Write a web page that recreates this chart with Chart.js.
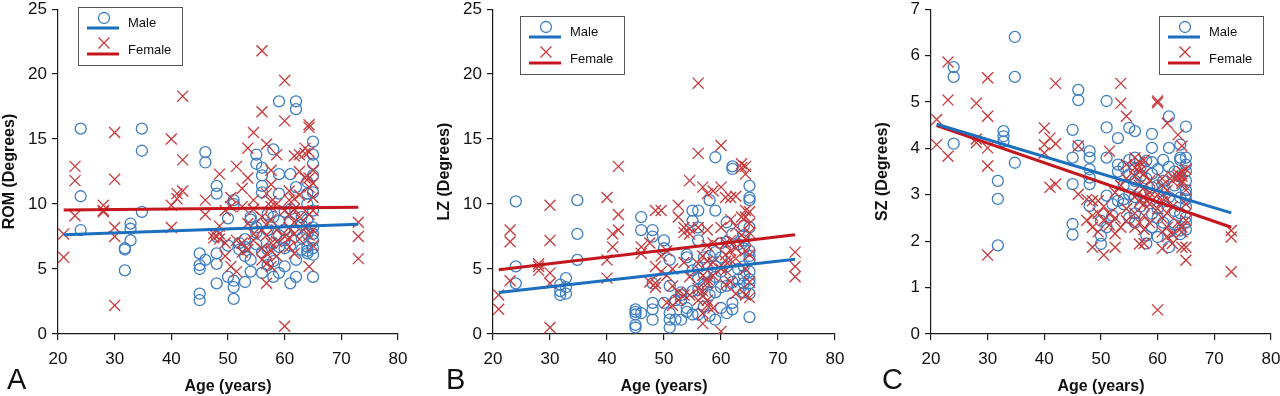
<!DOCTYPE html>
<html>
<head>
<meta charset="utf-8">
<script src="https://cdn.jsdelivr.net/npm/chart.js@4.4.1/dist/chart.umd.min.js"></script>
<style>
    html, body { margin: 0; padding: 0; background: #fff; }
    #wrap { position: relative; width: 1280px; height: 396px; overflow: hidden; }
    #wrap canvas { position: absolute; top: 0; }
    .letter { position: absolute; top: 365px; font-family: "Liberation Sans", Arial, sans-serif; font-size: 29px; color: #111; line-height: 1; }
</style>
</head>
<body>
<div id="wrap">
    <canvas id="chartA" width="420" height="396" style="left:0px"></canvas>
    <canvas id="chartB" width="430" height="396" style="left:420px"></canvas>
    <canvas id="chartC" width="430" height="396" style="left:850px"></canvas>
    <div class="letter" style="left:7px">A</div>
    <div class="letter" style="left:446px">B</div>
    <div class="letter" style="left:882px">C</div>
</div>
<script>
// ages shared by the three panels (same subjects)
const maleAge = [
    24, 24, 24,
    31.8, 31.8, 31.8,
    32.8, 32.8, 32.8,
    34.8, 34.8, 34.8,
    45, 45, 45, 45, 45,
    46, 46, 46,
    48, 48, 48, 48, 48, 48,
    50, 50, 50,
    51, 51, 51, 51, 51,
    52, 52,
    53, 53, 53, 53,
    54, 54, 54, 54,
    55, 55, 55, 55, 55,
    56, 56, 56, 56, 56, 56, 56,
    57, 57, 57, 57,
    58, 58, 58, 58, 58,
    59, 59, 59, 59, 59, 59, 59,
    60, 60, 60, 60, 60,
    61, 61, 61, 61, 61,
    62, 62, 62, 62, 62, 62,
    63, 63, 63, 63,
    64, 64, 64, 64, 64, 64, 64, 64,
    65, 65, 65, 65, 65, 65, 65, 65, 65, 65, 65, 65
];
const maleRom = [
    15.8, 10.6, 8.0,
    6.6, 6.5, 4.9,
    8.5, 8.1, 7.2,
    15.8, 14.1, 9.4,
    6.2, 5.3, 5.0, 3.1, 2.6,
    14.0, 13.2, 5.7,
    11.4, 10.8, 6.2, 5.4, 3.9, 7.5,
    8.9, 4.4, 6.8,
    10.3, 4.1, 3.6, 2.7, 10.0,
    7.0, 6.5,
    6.7, 4.0, 7.3, 6.0,
    9.0, 5.7, 4.8, 8.8,
    13.8, 13.1, 8.2, 7.8, 6.9,
    12.8, 12.2, 11.4, 10.9, 4.7, 8.5, 6.3,
    8.0, 6.5, 5.3, 9.2,
    14.2, 4.4, 7.0, 9.0, 5.6,
    17.9, 12.3, 10.8, 8.7, 6.7, 4.7, 7.6,
    6.6, 5.2, 9.4, 7.2, 8.0,
    12.3, 3.9, 8.6, 6.8, 9.6,
    17.9, 17.3, 11.3, 5.7, 4.4, 8.0,
    8.4, 7.4, 9.0, 6.5,
    10.8, 10.0, 6.7, 6.4, 11.7, 8.8, 7.7, 6.2,
    14.8, 13.8, 13.1, 12.2, 10.9, 8.2, 7.2, 6.1, 4.4, 9.5, 7.7, 6.6
];
const maleLz = [
    10.2, 5.2, 3.9,
    3.8, 3.0, 3.3,
    4.3, 3.1, 3.6,
    10.3, 7.7, 5.7,
    1.7, 1.5, 0.7, 0.5, 1.9,
    9.0, 8.0, 1.6,
    8.0, 7.5, 3.9, 2.4, 1.9, 1.1,
    7.2, 2.4, 6.6,
    5.7, 1.6, 1.1, 0.5, 3.7,
    2.6, 1.1,
    2.6, 3.2, 1.1, 3.0,
    5.9, 1.7, 6.1, 2.0,
    9.5, 8.7, 4.9, 1.5, 3.3,
    9.5, 8.2, 7.2, 5.1, 3.4, 1.5, 4.3,
    5.9, 2.1, 3.8, 4.6,
    10.3, 6.0, 3.0, 1.4, 4.0,
    13.6, 9.5, 5.2, 1.1, 6.3, 3.2, 4.4,
    7.0, 2.0, 4.8, 3.6, 5.9,
    8.6, 1.6, 5.2, 3.7, 7.1,
    12.9, 12.7, 7.7, 2.4, 4.0, 1.9,
    6.9, 5.0, 4.2, 3.5,
    7.2, 5.2, 7.6, 4.5, 3.9, 6.6, 3.2, 8.3,
    11.4, 10.5, 10.3, 8.2, 6.4, 3.9, 3.1, 1.3, 5.7, 4.8, 4.2, 6.0
];
const maleSz = [
    5.75, 5.54, 4.10,
    3.30, 2.91, 1.91,
    4.37, 4.26, 4.15,
    6.40, 5.54, 3.69,
    4.40, 3.80, 3.23, 2.37, 2.14,
    5.26, 5.04, 4.06,
    3.94, 3.80, 3.55, 3.37, 3.23, 2.76,
    2.44, 2.12, 1.94,
    5.02, 4.45, 3.80, 2.98, 2.30,
    2.80, 2.55,
    4.22, 3.65, 2.87, 3.50,
    3.60, 3.20, 2.90, 2.80,
    4.44, 3.44, 3.01, 2.50, 3.75,
    4.37, 3.80, 3.30, 2.95, 2.60, 3.55, 2.40,
    3.60, 3.05, 2.75, 3.40,
    3.73, 2.12, 2.87, 3.35, 1.95,
    4.31, 4.01, 3.16, 2.59, 3.70, 2.30, 3.45,
    2.09, 3.55, 2.70, 3.20, 2.50,
    3.30, 3.75, 2.85, 2.40, 3.10,
    4.69, 4.01, 1.87, 3.60, 2.20, 2.95,
    3.50, 2.65, 3.20, 2.35,
    4.08, 3.80, 2.94, 2.23, 3.40, 2.60, 2.15, 3.75,
    4.47, 3.80, 3.51, 3.01, 2.51, 3.30, 2.75, 2.40, 3.65, 2.25, 3.10, 2.90
];

const femaleAge = [
    21, 21,
    23, 23, 23,
    28, 28, 28,
    30, 30, 30, 30, 30,
    40, 40, 40,
    41, 41,
    42, 42, 42,
    46, 46,
    47.5, 47.5,
    48.5, 48.5, 48.5, 48.5,
    49.5, 49.5, 49.5,
    50.5, 50.5, 50.5,
    51.5, 51.5, 51.5,
    52.5, 52.5, 52.5, 52.5,
    53.5, 53.5, 53.5, 53.5,
    54.5, 54.5, 54.5, 54.5, 54.5,
    56, 56, 56, 56, 56, 56,
    56.8, 56.8, 56.8, 56.8, 56.8, 56.8, 56.8,
    57.6, 57.6, 57.6, 57.6, 57.6, 57.6, 57.6, 57.6,
    58.6, 58.6, 58.6, 58.6, 58.6,
    60, 60, 60, 60, 60,
    60.8, 60.8, 60.8, 60.8, 60.8, 60.8,
    61.7, 61.7, 61.7, 61.7, 61.7, 61.7,
    62.6, 62.6, 62.6, 62.6, 62.6,
    63.6, 63.6, 63.6, 63.6,
    64.3, 64.3, 64.3, 64.3, 64.3, 64.3, 64.3, 64.3,
    65, 65, 65, 65, 65, 65,
    73, 73, 73
];
const femaleRom = [
    7.7, 5.9,
    12.9, 11.8, 9.1,
    9.9, 9.5, 9.4,
    15.5, 11.9, 8.2, 7.5, 2.2,
    15.0, 9.9, 8.2,
    10.8, 10.4,
    18.3, 13.4, 11.0,
    10.3, 9.2,
    7.7, 7.4,
    7.7, 12.3, 7.3, 8.3,
    9.5, 7.0, 6.0,
    10.5, 5.2, 9.8,
    12.9, 7.2, 4.8,
    11.2, 7.0, 9.8, 6.3,
    14.3, 12.0, 8.5, 6.5,
    15.5, 10.3, 7.7, 9.6, 7.2,
    21.8, 17.1, 5.7, 9.0, 8.0, 6.6,
    14.6, 3.9, 5.4, 6.2, 8.4, 10.8, 7.6,
    12.6, 9.8, 7.0, 5.2, 8.8, 6.4, 10.2, 11.5,
    13.8, 10.0, 8.0, 6.0, 7.1,
    19.5, 16.4, 0.6, 9.5, 7.5,
    10.3, 8.2, 6.7, 9.2, 11.0, 7.4,
    13.7, 7.7, 9.6, 8.6, 6.2, 10.4,
    12.5, 9.0, 7.3, 10.7, 13.8,
    14.3, 13.9, 8.2, 12.0,
    15.9, 16.1, 14.0, 5.2, 11.3, 12.0, 9.2, 7.6,
    11.6, 9.5, 8.0, 6.8, 10.5, 12.6,
    8.6, 7.5, 5.8
];
const femaleLz = [
    3.0, 1.9,
    8.0, 7.1, 4.1,
    5.4, 5.2, 4.9,
    9.9, 7.2, 4.7, 3.9, 0.5,
    10.5, 5.7, 4.3,
    7.7, 6.7,
    12.9, 9.2, 8.0,
    6.7, 6.2,
    7.0, 4.0,
    5.2, 3.9, 3.6, 9.5,
    9.5, 6.0, 4.8,
    6.4, 2.4, 4.5,
    3.7, 2.2, 5.0,
    9.9, 9.0, 3.2, 2.6,
    8.2, 7.8, 5.5, 3.0,
    11.8, 7.7, 8.1, 4.4, 3.0,
    19.3, 13.9, 8.2, 5.4, 3.5, 2.6,
    11.3, 2.9, 1.6, 0.8, 6.0, 4.5, 3.3,
    10.8, 8.0, 2.2, 3.9, 5.6, 6.8, 4.2, 2.6,
    11.0, 7.0, 4.5, 2.0, 5.5,
    14.5, 11.3, 0.2, 8.2, 5.0,
    10.5, 7.0, 4.9, 6.1, 3.8, 5.6,
    10.5, 6.4, 4.0, 8.8, 5.7, 7.2,
    10.6, 6.6, 5.8, 3.1, 8.3,
    13.1, 12.8, 9.0, 7.6,
    12.3, 12.9, 9.5, 9.0, 6.4, 3.0, 7.3, 5.0,
    9.4, 8.5, 6.1, 4.0, 2.8, 7.8,
    6.3, 5.2, 4.4
];
const femaleSz = [
    4.62, 4.08,
    5.86, 5.04, 3.83,
    4.97, 4.12, 4.20,
    5.52, 4.69, 4.01, 3.62, 1.70,
    4.44, 4.08, 3.90,
    4.22, 3.16,
    5.40, 3.23, 4.10,
    4.05, 3.01,
    2.90, 2.45,
    2.87, 2.30, 1.87, 2.55,
    2.87, 2.20, 2.60,
    1.70, 2.45, 2.75,
    3.94, 2.59, 2.35,
    2.16, 1.87, 3.05, 2.50,
    5.40, 4.97, 2.30, 3.20,
    4.69, 3.65, 2.44, 2.70, 3.35,
    3.58, 2.30, 3.80, 3.40, 2.60, 2.95,
    3.70, 3.50, 1.94, 3.20, 2.85, 2.40, 3.60,
    3.45, 3.15, 2.95, 2.55, 2.25, 3.75, 1.95, 2.80,
    3.30, 2.80, 2.40, 2.95, 3.05,
    5.02, 4.98, 0.52, 3.00, 2.70,
    3.20, 2.50, 1.84, 2.85, 3.35, 2.20,
    4.54, 2.60, 2.30, 3.10, 2.90, 2.10,
    3.40, 2.75, 2.15, 3.30, 1.95,
    3.37, 4.29, 3.45, 2.40,
    3.40, 3.30, 3.25, 1.87, 2.30, 3.50, 2.20, 4.05,
    1.59, 1.87, 2.45, 3.10, 2.80, 3.55,
    2.23, 2.09, 1.34
];

// fitted lines, read at their two ends
const trendAge = [21, 73];
const maleTrendRom = [7.63, 8.45];
const femaleTrendRom = [9.55, 9.75];
const maleTrendLz = [3.2, 5.75];
const femaleTrendLz = [4.95, 7.63];
const maleTrendSz = [4.52, 2.61];
const femaleTrendSz = [4.49, 2.30];

const ageTicks = [20, 30, 40, 50, 60, 70, 80];
const seriesLabels = ['Male', 'Female'];

(function () {
    'use strict';

    const FONT = '"Liberation Sans", Arial, sans-serif';
    const BLUE_MARK = '#3d7ec4';
    const BLUE_LINE = '#1b6fbe';
    const RED_MARK = '#c8393b';
    const RED_LINE = '#c3161d';
    const AXIS = '#1a1a1a';

    function toPoints(xs, ys) {
        return xs.map(function (x, i) {
            return { x: x, y: ys[i] };
        });
    }

    // boxed legend sitting inside the plot, like the original figure
    const boxLegend = {
        id: 'boxLegend',
        afterDatasetsDraw: function (chart, args, opts) {
            const ctx = chart.ctx;
            const x = opts.x;
            const y = opts.y;
            const w = 104;
            const h = 58;

            ctx.save();
            ctx.fillStyle = '#fff';
            ctx.fillRect(x, y, w, h);
            ctx.strokeStyle = '#555';
            ctx.lineWidth = 1;
            ctx.strokeRect(x + 0.5, y + 0.5, w, h);

            // male: circle over line
            ctx.strokeStyle = BLUE_MARK;
            ctx.lineWidth = 1.3;
            ctx.beginPath();
            ctx.arc(x + 26, y + 11, 5.5, 0, Math.PI * 2);
            ctx.stroke();
            ctx.strokeStyle = BLUE_LINE;
            ctx.lineWidth = 3;
            ctx.beginPath();
            ctx.moveTo(x + 9, y + 21);
            ctx.lineTo(x + 41, y + 21);
            ctx.stroke();

            // female: cross over line
            ctx.strokeStyle = RED_MARK;
            ctx.lineWidth = 1.3;
            ctx.beginPath();
            ctx.moveTo(x + 20.5, y + 30.5);
            ctx.lineTo(x + 31.5, y + 41.5);
            ctx.moveTo(x + 31.5, y + 30.5);
            ctx.lineTo(x + 20.5, y + 41.5);
            ctx.stroke();
            ctx.strokeStyle = RED_LINE;
            ctx.lineWidth = 3;
            ctx.beginPath();
            ctx.moveTo(x + 9, y + 47);
            ctx.lineTo(x + 41, y + 47);
            ctx.stroke();

            ctx.fillStyle = '#111';
            ctx.font = '13px ' + FONT;
            ctx.textBaseline = 'middle';
            ctx.textAlign = 'left';
            ctx.fillText(seriesLabels[0], x + 50, y + 16);
            ctx.fillText(seriesLabels[1], x + 50, y + 43);
            ctx.restore();
        }
    };

    function buildChart(id, cfg) {
        const canvas = document.getElementById(id);
        if (!canvas) {
            return;
        }

        const yTicks = [];
        for (let v = 0; v <= cfg.yMax; v += cfg.yStep) {
            yTicks.push(v);
        }

        new Chart(canvas, {
            type: 'scatter',
            data: {
                datasets: [
                    {
                        label: seriesLabels[0] + ' fit',
                        data: toPoints(trendAge, cfg.maleTrend),
                        showLine: true,
                        borderColor: BLUE_LINE,
                        borderWidth: 3,
                        pointRadius: 0,
                        order: 0
                    },
                    {
                        label: seriesLabels[1] + ' fit',
                        data: toPoints(trendAge, cfg.femaleTrend),
                        showLine: true,
                        borderColor: RED_LINE,
                        borderWidth: 3,
                        pointRadius: 0,
                        order: 1
                    },
                    {
                        label: seriesLabels[1],
                        data: toPoints(femaleAge, cfg.female),
                        pointStyle: 'crossRot',
                        pointRadius: 7.8,
                        borderColor: RED_MARK,
                        borderWidth: 1.3,
                        backgroundColor: 'transparent',
                        order: 2
                    },
                    {
                        label: seriesLabels[0],
                        data: toPoints(maleAge, cfg.male),
                        pointStyle: 'circle',
                        pointRadius: 5.5,
                        borderColor: BLUE_MARK,
                        borderWidth: 1.3,
                        backgroundColor: 'transparent',
                        order: 3
                    }
                ]
            },
            options: {
                responsive: false,
                animation: false,
                events: [],
                layout: { padding: { left: 0, right: cfg.padRight, top: 0, bottom: 0 } },
                plugins: {
                    legend: { display: false },
                    tooltip: { enabled: false },
                    boxLegend: { x: cfg.legendX, y: cfg.legendY }
                },
                scales: {
                    x: {
                        type: 'linear',
                        min: ageTicks[0],
                        max: ageTicks[ageTicks.length - 1],
                        afterBuildTicks: function (scale) {
                            scale.ticks = ageTicks.map(function (v) { return { value: v }; });
                        },
                        afterFit: function (scale) {
                            scale.height = 62;
                            scale.paddingRight = 0;
                            scale.paddingLeft = 0;
                        },
                        grid: { drawOnChartArea: false, drawTicks: true, tickLength: 6, color: AXIS, lineWidth: 1.2 },
                        border: { color: AXIS, width: 1.2 },
                        ticks: { color: '#111', padding: 9, font: { family: FONT, size: 17 } },
                        title: {
                            display: true,
                            text: 'Age (years)',
                            color: '#111',
                            padding: 0,
                            font: { family: FONT, size: 16, weight: 'bold' }
                        }
                    },
                    y: {
                        type: 'linear',
                        min: 0,
                        max: cfg.yMax,
                        afterBuildTicks: function (scale) {
                            scale.ticks = yTicks.map(function (v) { return { value: v }; });
                        },
                        afterFit: function (scale) {
                            scale.width = cfg.axisLeft;
                            scale.paddingTop = 7;
                            scale.paddingBottom = 0;
                        },
                        grid: { drawOnChartArea: false, drawTicks: true, tickLength: 6, color: AXIS, lineWidth: 1.2 },
                        border: { color: AXIS, width: 1.2 },
                        ticks: { color: '#111', padding: 5, font: { family: FONT, size: 17 } },
                        title: {
                            display: true,
                            text: cfg.yTitle,
                            color: '#111',
                            padding: cfg.titlePad,
                            font: { family: FONT, size: 16, weight: 'bold' }
                        }
                    }
                }
            },
            plugins: [boxLegend]
        });
    }

    buildChart('chartA', {
        male: maleRom, female: femaleRom,
        maleTrend: maleTrendRom, femaleTrend: femaleTrendRom,
        yTitle: 'ROM (Degrees)', yMax: 25, yStep: 5,
        axisLeft: 58, padRight: 22, titlePad: 0,
        legendX: 78, legendY: 7
    });

    buildChart('chartB', {
        male: maleLz, female: femaleLz,
        maleTrend: maleTrendLz, femaleTrend: femaleTrendLz,
        yTitle: 'LZ (Degrees)', yMax: 25, yStep: 5,
        axisLeft: 73, padRight: 15, titlePad: 15,
        legendX: 100, legendY: 16
    });

    buildChart('chartC', {
        male: maleSz, female: femaleSz,
        maleTrend: maleTrendSz, femaleTrend: femaleTrendSz,
        yTitle: 'SZ (Degrees)', yMax: 7, yStep: 1,
        axisLeft: 81, padRight: 9, titlePad: 23,
        legendX: 309, legendY: 16
    });
})();
</script>
</body>
</html>
